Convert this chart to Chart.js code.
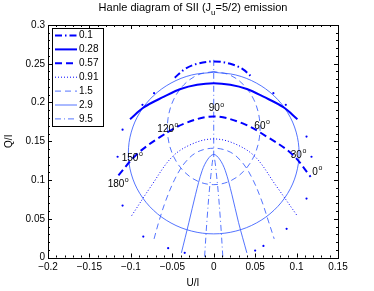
<!DOCTYPE html>
<html><head><meta charset="utf-8">
<script src="https://cdn.jsdelivr.net/npm/chart.js@4"></script>
<style>html,body{margin:0;padding:0;background:#fff}</style>
</head><body>
<canvas id="c" width="374" height="291"></canvas>
<script>
// ---- data ----
const fieldLabels = ['0.1','0.28','0.57','0.91','1.5','2.9','9.5'];

const u01 = [-0.047,-0.035,-0.02,0,0.02,0.035,0.047];
const q01 = [0.232,0.243,0.250,0.253,0.250,0.243,0.232];

const u028 = [-0.101,-0.084,-0.06,-0.04,-0.02,0,0.02,0.04,0.06,0.084,0.101];
const q028 = [0.1785,0.194,0.2075,0.2175,0.223,0.225,0.223,0.2175,0.2075,0.194,0.1785];

const u057 = [-0.115,-0.093,-0.064,-0.035,0,0.035,0.064,0.095,0.117];
const q057 = [0.106,0.133,0.156,0.173,0.182,0.173,0.156,0.133,0.104];

const u091 = [-0.099,-0.075,-0.05,-0.025,0,0.025,0.05,0.075,0.1];
const q091 = [0.054,0.093,0.13,0.147,0.153,0.147,0.13,0.093,0.055];

const u15 = [-0.072,-0.066,-0.058,-0.047,-0.035,-0.02,0,0.02,0.035,0.047,0.058,0.066,0.073];
const q15 = [0.024,0.047,0.073,0.101,0.122,0.136,0.141,0.136,0.122,0.101,0.073,0.047,0.024];

const u29 = [-0.039,-0.03,-0.022,-0.014,-0.007,0,0.007,0.014,0.022,0.03,0.04];
const q29 = [0.006,0.045,0.081,0.112,0.127,0.133,0.127,0.112,0.081,0.045,0.006];

const u95 = [-0.011,-0.008,-0.004,0,0.004,0.008,0.011];
const q95 = [0.001,0.05,0.1,0.13,0.1,0.05,0.001];

// constant-angle tracks (30/150, 60/120, 90 degrees) and the 0/180 track
const uSpoke30 = [0,0.0267,0.0515,0.0728,0.0892,0.0995,0.103,0.0995,0.0892,0.0728,0.0515,0.0267,0,-0.0267,-0.0515,-0.0728,-0.0892,-0.0995,-0.103,-0.0995,-0.0892,-0.0728,-0.0515,-0.0267,0];
const qSpoke30 = [0.239,0.2355,0.2251,0.2086,0.187,0.1618,0.1348,0.1078,0.0826,0.061,0.0445,0.0341,0.0305,0.0341,0.0445,0.061,0.0826,0.1078,0.1348,0.1618,0.187,0.2086,0.2251,0.2355,0.239];

const uSpoke60 = [0,-0.0192,-0.036,-0.0485,-0.0551,-0.0551,-0.0485,-0.036,-0.0192,0,0.0192,0.036,0.0485,0.0551,0.0551,0.0485,0.036,0.0192,0];
const qSpoke60 = [0.24,0.2356,0.2229,0.2035,0.1797,0.1543,0.1305,0.1111,0.0984,0.094,0.0984,0.1111,0.1305,0.1543,0.1797,0.2035,0.2229,0.2356,0.24];

const uSpoke90 = [0,0];
const qSpoke90 = [0.13,0.259];

const uDots = [-0.072,-0.086,-0.11,-0.116,-0.11,-0.085,-0.055,-0.035,0.072,0.087,0.112,0.118,0.112,0.088,0.06,0.05];
const qDots = [0.212,0.197,0.165,0.13,0.067,0.027,0.012,0.006,0.212,0.197,0.156,0.13,0.076,0.037,0.015,0.009];

const angleTexts = ['0','30','60','90','120','150','180'];
const angleU = [0.119,0.093,0.049,-0.006,-0.068,-0.111,-0.128];
const angleQ = [0.110,0.132,0.170,0.192,0.166,0.128,0.095];

const xTickValues = [-0.2,-0.15,-0.1,-0.05,0,0.05,0.1,0.15];
const xTickLabels = ['\u22120.2','\u22120.15','\u22120.1','\u22120.05','0','0.05','0.1','0.15'];
const yTickValues = [0,0.05,0.1,0.15,0.2,0.25,0.3];
const yTickLabels = ['0','0.05','0.1','0.15','0.2','0.25','0.3'];

// ---- styles ----
const BLUE = 'rgb(0,0,255)';
const THIN = 'rgb(40,80,255)';
const styles = [
  {w:2, dash:[7,3,1.5,3], c:BLUE},
  {w:2, dash:[], c:BLUE},
  {w:2, dash:[7,4], c:BLUE},
  {w:1, dash:[1,2], c:BLUE},
  {w:0.8, dash:[6,4], c:THIN},
  {w:0.8, dash:[], c:THIN},
  {w:0.8, dash:[6,3,1,3], c:THIN}
];
const FONT = '"Liberation Sans", Arial, Helvetica, sans-serif';

function pts(u,q){ return u.map((x,i)=>({x:x, y:q[i]})); }
function lineDs(label,u,q,st){
  return {label:label, data:pts(u,q), showLine:true, borderColor:st.c, backgroundColor:st.c,
    borderWidth:st.w, borderDash:st.dash, pointRadius:0, tension:0.35, fill:false};
}
const curveU = [u01,u028,u057,u091,u15,u29,u95];
const curveQ = [q01,q028,q057,q091,q15,q29,q95];
const datasets = fieldLabels.map((l,i)=>lineDs(l,curveU[i],curveQ[i],styles[i]));
datasets.push(lineDs('spoke30',uSpoke30,qSpoke30,styles[5]));
datasets.push(lineDs('spoke60',uSpoke60,qSpoke60,styles[4]));
datasets.push(lineDs('spoke90',uSpoke90,qSpoke90,styles[6]));
datasets.push({label:'dots', data:pts(uDots,qDots), showLine:false, pointRadius:1.1,
  pointBorderWidth:0, backgroundColor:BLUE, borderColor:BLUE});

const decor = {
  id:'decor',
  afterDraw(chart){
    const c = chart.ctx, a = chart.chartArea;
    const xs = chart.scales.x, ys = chart.scales.y;
    c.save();
    c.strokeStyle='#000'; c.lineWidth=1; c.setLineDash([]);
    c.strokeRect(Math.round(a.left)+0.5, Math.round(a.top)+0.5, Math.round(a.right-a.left), Math.round(a.bottom-a.top));
    c.beginPath();
    for(let v=-0.2; v<=0.1501; v+=0.01){
      const px = Math.round(xs.getPixelForValue(v))+0.5;
      const major = Math.abs(v/0.05 - Math.round(v/0.05))<1e-6;
      const L = major?4:2;
      c.moveTo(px,a.bottom); c.lineTo(px,a.bottom-L);
      c.moveTo(px,a.top); c.lineTo(px,a.top+L);
    }
    for(let v=0; v<=0.3001; v+=0.01){
      const py = Math.round(ys.getPixelForValue(v))+0.5;
      const major = Math.abs(v/0.05 - Math.round(v/0.05))<1e-6;
      const L = major?4:2;
      c.moveTo(a.left,py); c.lineTo(a.left+L,py);
      c.moveTo(a.right,py); c.lineTo(a.right-L,py);
    }
    c.stroke();
    c.fillStyle='#000'; c.font='10px '+FONT;
    c.textAlign='center'; c.textBaseline='middle';
    xTickValues.forEach((v,i)=>{ c.fillText(xTickLabels[i], xs.getPixelForValue(v), a.bottom+10); });
    c.textAlign='right';
    yTickValues.forEach((v,i)=>{ c.fillText(yTickLabels[i], a.left-3, ys.getPixelForValue(v)); });
    c.textAlign='center';
    c.fillText('U/I', (a.left+a.right)/2, 283);
    c.save(); c.translate(9,(a.top+a.bottom)/2); c.rotate(-Math.PI/2); c.fillText('Q/I',0,0); c.restore();
    const p1='Hanle diagram of SII (J', sub='u', p2='=5/2) emission';
    c.font='11px '+FONT; const w1=c.measureText(p1).width, w3=c.measureText(p2).width;
    c.font='8px '+FONT; const w2=c.measureText(sub).width;
    let x0=(a.left+a.right)/2-(w1+w2+w3)/2;
    c.textAlign='left'; c.textBaseline='alphabetic';
    c.font='11px '+FONT; c.fillText(p1,x0,11);
    c.font='8px '+FONT; c.fillText(sub,x0+w1,15);
    c.font='11px '+FONT; c.fillText(p2,x0+w1+w2,11);
    angleTexts.forEach((t,i)=>{
      const px=xs.getPixelForValue(angleU[i]), py=ys.getPixelForValue(angleQ[i]);
      c.font='10px '+FONT; c.textBaseline='middle'; c.fillText(t,px,py);
      const w=c.measureText(t).width;
      c.font='7px '+FONT; c.fillText('o',px+w+0.5,py-4);
    });
    const lx=52.5, ly=28.5, lw=51, lh=98;
    c.fillStyle='#fff'; c.fillRect(lx,ly,lw,lh);
    c.strokeStyle='#000'; c.lineWidth=1; c.strokeRect(lx,ly,lw,lh);
    c.font='10px '+FONT; c.textBaseline='middle'; c.textAlign='left';
    fieldLabels.forEach((l,i)=>{
      const y = 35.5 + i*13.9;
      const st = styles[i];
      c.strokeStyle=st.c; c.lineWidth=st.w; c.setLineDash(st.dash);
      c.beginPath(); c.moveTo(55,y); c.lineTo(77,y); c.stroke();
      c.setLineDash([]);
      c.fillStyle='#000'; c.fillText(l,79,y);
    });
    c.restore();
  }
};

new Chart(document.getElementById('c'), {
  type:'scatter',
  data:{datasets:datasets},
  options:{
    responsive:false, animation:false, devicePixelRatio:1,
    layout:{padding:{left:48,right:36,top:25,bottom:33.5}},
    plugins:{legend:{display:false}, title:{display:false}, tooltip:{enabled:false}},
    scales:{
      x:{type:'linear', min:-0.2, max:0.15, display:false},
      y:{type:'linear', min:0, max:0.3, display:false}
    }
  },
  plugins:[decor]
});
</script>
</body></html>
